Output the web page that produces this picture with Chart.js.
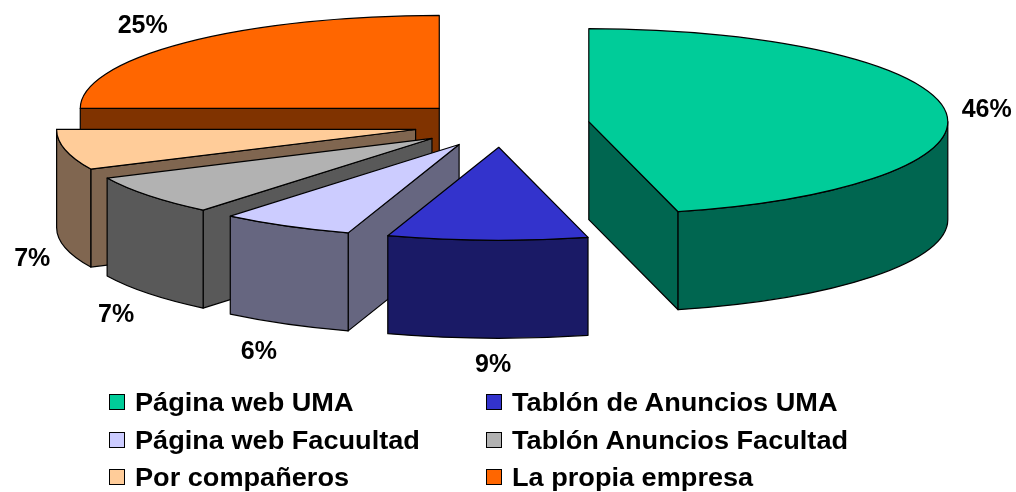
<!DOCTYPE html>
<html>
<head>
<meta charset="utf-8">
<script src="https://cdn.jsdelivr.net/npm/chart.js@4"></script>
<style>
    html, body { margin: 0; padding: 0; background: #fff; }
    #wrap { position: relative; width: 1016px; height: 492px; overflow: hidden; }
    #legend { position: absolute; left: 0; top: 0; font: bold 25px "Liberation Sans", Arial, sans-serif; color: #000; }
    .item { position: absolute; white-space: nowrap; line-height: 30px; height: 30px; }
    .swatch { position: absolute; left: -26px; top: 7px; width: 14px; height: 14px; border: 1px solid #000; }
    /* the original legend text is a bit wider than liberation */
    .text { display: inline-block; transform: scaleX(1.085); transform-origin: left center; }
</style>
</head>
<body>
<div id="wrap">
    <canvas id="chart" width="1016" height="492"></canvas>
    <div id="legend"></div>
</div>
<script>
const labels = ["Página web UMA", "Tablón de Anuncios UMA", "Página web Facuultad", "Tablón Anuncios Facultad", "Por compañeros", "La propia empresa"];
const values = [46, 9, 6, 7, 7, 25];
const topColors = ["#00cc99", "#3333cc", "#ccccff", "#b2b2b2", "#ffcc99", "#ff6600"];
const sideColors = ["#006650", "#1a1a66", "#666680", "#595959", "#806650", "#803300"];
const percentText = ["46%", "9%", "6%", "7%", "7%", "25%"];

// look of the fake 3d pie
const SQUASH = 0.259;
const DEPTH = 98;
const EXPLODE = 88;
const LABEL_GAP_X = 42;
const LABEL_GAP_Y = 93;
// small shifts so the percent labels sit where excel put them
const labelNudge = [[0, 3], [7, 3], [-7, 7], [1, 7], [8, 6], [-13, 1]];

const legendCols = [135, 512];
const legendRows = [387, 425, 462];

function slicePath(ctx, el, ox, oy) {
    const r = el.outerRadius;
    ctx.beginPath();
    ctx.moveTo(ox, oy);
    ctx.ellipse(ox, oy, r, r * SQUASH, 0, el.startAngle, el.endAngle);
    ctx.closePath();
}

// radial wall going down from the edge at this angle
function radialWall(ctx, el, ox, oy, angle) {
    const x = ox + el.outerRadius * Math.cos(angle);
    const y = oy + el.outerRadius * SQUASH * Math.sin(angle);
    ctx.beginPath();
    ctx.moveTo(ox, oy);
    ctx.lineTo(x, y);
    ctx.lineTo(x, y + DEPTH);
    ctx.lineTo(ox, oy + DEPTH);
    ctx.closePath();
    ctx.fill();
    ctx.stroke();
}

// round wall, only the part that looks at the viewer
function outerWall(ctx, el, ox, oy) {
    const r = el.outerRadius;
    const from = Math.max(el.startAngle, 0);
    const to = Math.min(el.endAngle, Math.PI);
    if (to <= from) return;
    ctx.beginPath();
    ctx.ellipse(ox, oy, r, r * SQUASH, 0, from, to);
    ctx.ellipse(ox, oy + DEPTH, r, r * SQUASH, 0, to, from, true);
    ctx.closePath();
    ctx.fill();
    ctx.stroke();
}

const pie3d = {
    id: "pie3d",
    beforeDatasetsDraw(chart) {
        const ctx = chart.ctx;
        const arcs = chart.getDatasetMeta(0).data;
        ctx.save();
        ctx.lineWidth = 1.2;
        ctx.strokeStyle = "#000";
        ctx.lineJoin = "round";
        for (let i = arcs.length - 1; i >= 0; i--) {
            const el = arcs[i];
            const mid = (el.startAngle + el.endAngle) / 2;
            const ox = el.x + EXPLODE * Math.cos(mid);
            const oy = el.y + EXPLODE * SQUASH * Math.sin(mid);
            ctx.fillStyle = sideColors[i];
            if (Math.sin(el.startAngle - Math.PI / 2) > 0.001) radialWall(ctx, el, ox, oy, el.startAngle);
            if (Math.sin(el.endAngle + Math.PI / 2) > 0.001) radialWall(ctx, el, ox, oy, el.endAngle);
            outerWall(ctx, el, ox, oy);
            ctx.fillStyle = topColors[i];
            slicePath(ctx, el, ox, oy);
            ctx.fill();
            ctx.stroke();
        }
        ctx.fillStyle = "#000";
        ctx.font = 'bold 25px "Liberation Sans", Arial, sans-serif';
        ctx.textAlign = "center";
        ctx.textBaseline = "middle";
        arcs.forEach((el, i) => {
            const mid = (el.startAngle + el.endAngle) / 2;
            const c = Math.cos(mid), s = Math.sin(mid);
            const reach = EXPLODE + el.outerRadius;
            const x = el.x + reach * c + LABEL_GAP_X * c + labelNudge[i][0];
            const y = el.y + reach * SQUASH * s + LABEL_GAP_Y * SQUASH * s + (s > 0.1 ? DEPTH : 0) + labelNudge[i][1];
            ctx.fillText(percentText[i], x, y);
        });
        ctx.restore();
        return false;
    }
};

new Chart(document.getElementById("chart"), {
    type: "pie",
    data: {
        labels: labels,
        datasets: [{ data: values, backgroundColor: topColors, radius: 359 }]
    },
    options: {
        responsive: false,
        animation: false,
        events: [],
        layout: { padding: { right: 13, bottom: 243 } },
        plugins: { legend: { display: false }, tooltip: { enabled: false } }
    },
    plugins: [pie3d]
});

// html legend, two columns filled row by row
const legendBox = document.getElementById("legend");
labels.forEach((text, i) => {
    const item = document.createElement("div");
    item.className = "item";
    item.style.left = legendCols[i % 2] + "px";
    item.style.top = legendRows[Math.floor(i / 2)] + "px";
    const swatch = document.createElement("span");
    swatch.className = "swatch";
    swatch.style.background = topColors[i];
    const label = document.createElement("span");
    label.className = "text";
    label.textContent = text;
    item.appendChild(swatch);
    item.appendChild(label);
    legendBox.appendChild(item);
});
</script>
</body>
</html>
